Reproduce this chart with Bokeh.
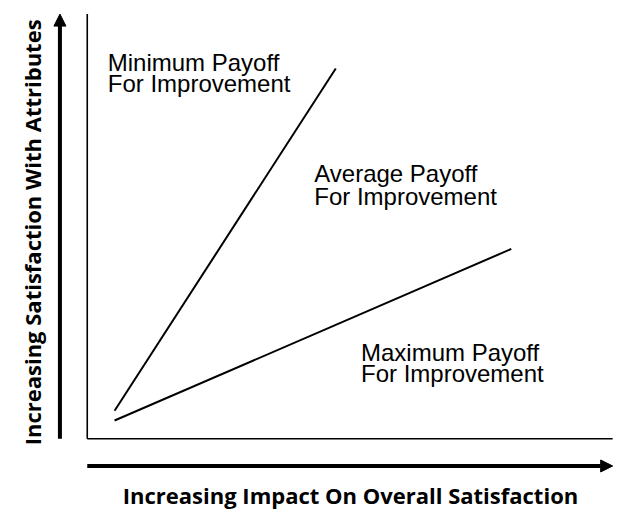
from bokeh.plotting import figure
from bokeh.models import Range1d, Arrow, NormalHead, ColumnDataSource
from bokeh.core.properties import value
from bokeh.embed import file_html
from bokeh.resources import INLINE
import math

# ---- data (conceptual units: 0..10 on each axis) ----
line_names = ["Minimum", "Maximum"]
line_x0 = [0.52, 0.52]
line_y0 = [0.66, 0.43]
line_x1 = [4.73, 8.07]
line_y1 = [8.72, 4.47]

label_line1 = ["Minimum Payoff", "Average Payoff", "Maximum Payoff"]
label_line2 = ["For Improvement", "For Improvement", "For Improvement"]
label_x = [0.39, 4.32, 5.21]
label_y1 = [8.865, 6.235, 2.035]
label_y2 = [8.355, 5.715, 1.535]

x_title = "Increasing Impact On Overall Satisfaction"
y_title = "Increasing Satisfaction With Attributes"

# ---- figure ----
p = figure(width=620, height=511, output_backend="svg", toolbar_location=None,
           x_range=Range1d(-1.651, 10.149), y_range=Range1d(-1.712, 10.320),
           min_border=0)
p.axis.visible = False
p.grid.visible = False
p.outline_line_color = None
p.background_fill_color = "white"
p.border_fill_color = "white"

# axis box lines
p.segment(x0=[0, 0], y0=[0, 0], x1=[0, 10], y1=[10, 0], line_color="black", line_width=1.6)

# payoff lines
src = ColumnDataSource(dict(x0=line_x0, y0=line_y0, x1=line_x1, y1=line_y1))
p.segment(x0="x0", y0="y0", x1="x1", y1="y1", source=src, line_color="black", line_width=2)

# labels
lsrc = ColumnDataSource(dict(x=label_x, y1=label_y1, y2=label_y2, t1=label_line1, t2=label_line2))
for ycol, tcol in (("y1", "t1"), ("y2", "t2")):
    p.text(x="x", y=ycol, text=tcol, source=lsrc, text_font=value("Liberation Sans"),
           text_font_size="24px", text_color="black", text_align="left",
           text_baseline="alphabetic")

# arrows
p.add_layout(Arrow(end=NormalHead(size=12, fill_color="black", line_color="black", line_width=1),
                   x_start=-0.52, y_start=0, x_end=-0.52, y_end=10,
                   line_color="black", line_width=4))
p.add_layout(Arrow(end=NormalHead(size=12, fill_color="black", line_color="black", line_width=1),
                   x_start=0, y_start=-0.64, x_end=10, y_end=-0.64,
                   line_color="black", line_width=4))

# axis titles
p.text(x=[5.01], y=[-1.335], text=[x_title], text_font=value("Open Sans"),
       text_font_style="bold", text_font_size="22px", text_color="black",
       text_align="center", text_baseline="alphabetic")
p.text(x=[-1.042], y=[4.86], text=[y_title], text_font=value("Open Sans"),
       text_font_style="bold", text_font_size="22px", text_color="black",
       text_align="center", text_baseline="alphabetic", angle=math.pi / 2)

open("out.html", "w").write(file_html(p, INLINE))
